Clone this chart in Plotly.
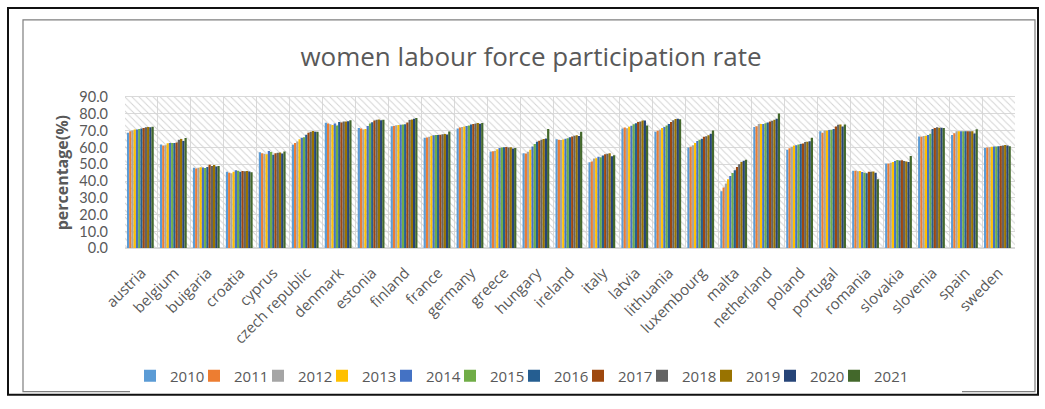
import plotly.graph_objects as go

# Countries on the category axis
countries = [
    "austria", "belgium", "buigaria", "croatia", "cyprus", "czech republic",
    "denmark", "estonia", "finland", "france", "germany", "greece", "hungary",
    "ireland", "italy", "latvia", "lithuania", "luxembourg", "malta",
    "netherland", "poland", "portugal", "romania", "slovakia", "slovenia",
    "spain", "sweden",
]

years = ["2010", "2011", "2012", "2013", "2014", "2015",
         "2016", "2017", "2018", "2019", "2020", "2021"]

# Women labour force participation rate (%) per year, in country order
y2010 = [68.8, 61.8, 47.9, 45.6, 57.1, 61.6, 74.7, 71.5, 72.6, 65.8, 71.3, 57.4, 56.6, 64.8,
         51.2, 71.2, 69.4, 59.9, 34.0, 72.1, 58.6, 69.6, 46.2, 50.4, 66.5, 67.4, 59.6]
y2011 = [69.6, 61.2, 47.4, 45.0, 56.5, 62.7, 74.2, 71.2, 72.8, 65.9, 71.8, 57.8, 56.4, 64.5,
         51.7, 71.8, 69.9, 60.4, 36.2, 72.6, 59.5, 68.7, 46.1, 50.5, 66.4, 68.4, 59.9]
y2012 = [70.1, 61.3, 47.9, 44.7, 56.2, 63.6, 73.8, 70.7, 73.2, 66.3, 72.1, 58.1, 57.5, 64.4,
         53.4, 71.4, 70.5, 61.3, 38.6, 73.9, 60.4, 70.0, 45.9, 50.8, 66.8, 69.6, 60.1]
y2013 = [70.7, 62.5, 48.2, 45.6, 55.9, 64.9, 73.4, 71.0, 73.3, 66.9, 72.5, 58.9, 58.6, 64.7,
         53.6, 72.3, 71.5, 62.6, 41.0, 74.0, 61.1, 70.0, 46.0, 51.4, 67.0, 69.6, 60.4]
y2014 = [70.6, 62.7, 48.1, 46.4, 57.9, 65.7, 74.3, 72.8, 73.5, 67.2, 72.8, 59.6, 60.6, 65.2,
         54.4, 72.9, 72.2, 63.8, 43.0, 74.0, 61.3, 70.4, 45.4, 52.0, 67.4, 69.6, 60.6]
y2015 = [70.9, 62.6, 47.8, 46.1, 57.3, 66.1, 73.1, 74.3, 73.6, 67.4, 73.0, 60.0, 62.1, 65.5,
         54.1, 73.8, 73.1, 64.5, 44.8, 74.4, 61.8, 70.5, 44.9, 52.5, 68.2, 69.6, 60.6]
y2016 = [71.3, 62.6, 48.4, 45.5, 55.7, 67.5, 75.1, 75.0, 73.8, 67.4, 73.6, 60.1, 63.4, 66.0,
         55.2, 74.4, 74.0, 65.2, 46.5, 74.9, 62.1, 71.0, 44.6, 52.3, 71.0, 69.6, 60.7]
y2017 = [71.6, 63.0, 49.7, 46.0, 56.6, 68.7, 74.9, 76.0, 74.9, 67.6, 74.0, 60.2, 64.0, 66.5,
         55.9, 75.1, 75.1, 66.3, 48.3, 75.4, 62.4, 72.5, 45.6, 52.4, 71.6, 69.7, 60.9]
y2018 = [72.0, 64.6, 49.0, 45.8, 56.8, 69.4, 75.5, 76.5, 76.3, 67.8, 74.3, 59.9, 64.5, 67.0,
         56.2, 75.4, 76.1, 66.6, 50.0, 75.9, 63.2, 73.5, 45.5, 52.0, 72.0, 69.6, 61.1]
y2019 = [72.1, 65.0, 49.6, 46.0, 57.0, 69.8, 75.4, 76.6, 76.6, 68.0, 74.6, 60.1, 65.0, 67.3,
         56.5, 76.0, 76.9, 67.2, 51.3, 76.4, 63.4, 73.7, 45.7, 51.6, 71.7, 69.7, 61.4]
y2020 = [72.0, 63.9, 48.7, 45.7, 56.4, 69.4, 75.6, 76.2, 77.0, 67.7, 74.1, 59.3, 65.3, 66.8,
         54.7, 76.0, 77.1, 68.2, 52.1, 77.1, 63.7, 72.4, 44.9, 51.3, 71.7, 68.3, 61.1]
y2021 = [72.3, 65.6, 48.9, 45.2, 57.6, 69.3, 76.2, 76.5, 77.5, 69.5, 74.5, 59.6, 71.0, 69.4,
         55.4, 73.0, 76.8, 70.0, 52.6, 80.2, 65.7, 73.6, 41.0, 54.9, 71.5, 70.8, 60.7]

series = [y2010, y2011, y2012, y2013, y2014, y2015,
          y2016, y2017, y2018, y2019, y2020, y2021]

colors = ["#5B9BD5", "#ED7D31", "#A5A5A5", "#FFC000", "#4472C4", "#70AD47",
          "#255E91", "#9E480E", "#636363", "#997300", "#264478", "#43682B"]

Y_MAX = 90
TEXT = "#595959"
GRID = "#D9D9D9"
FONT = "Open Sans"

fig = go.Figure()

# Hatched plot-area fill: one full-width patterned bar per category on the base axis
fig.add_trace(go.Bar(
    x=countries, y=[Y_MAX] * len(countries), width=1,
    marker=dict(color="rgba(0,0,0,0)", line=dict(width=0),
                pattern=dict(shape="\\", fgcolor="#D4D4D4", size=5,
                             solidity=0.2, fillmode="replace")),
    showlegend=False, hoverinfo="skip", xaxis="x", yaxis="y",
))

# Clustered columns, one trace per year, on an overlaying category axis
for yr, vals, col in zip(years, series, colors):
    fig.add_trace(go.Bar(
        name=yr, x=countries, y=vals, marker=dict(color=col, line=dict(width=0)),
        xaxis="x2", yaxis="y",
    ))

# Blank trailing legend slot so the last year's label has room in the legend box
fig.add_trace(go.Bar(
    name=" ", x=[None], y=[None], xaxis="x2", yaxis="y",
    marker=dict(color="rgba(0,0,0,0)", line=dict(width=0)), hoverinfo="skip",
))

# Pixel-to-paper helpers for the decorative frames
L, R, T, B = 125, 30, 97, 159
W, H = 1045, 409
pw, ph = W - L - R, H - T - B
px = lambda p: (p - L) / pw
py = lambda q: (H - B - q) / ph

fig.update_layout(
    width=W, height=H, autosize=False,
    margin=dict(l=L, r=R, t=T, b=B),
    paper_bgcolor="white", plot_bgcolor="white",
    barmode="group", bargap=0.12, bargroupgap=0,
    font=dict(family=FONT, color=TEXT),
    title=dict(text="women labour force participation rate",
               x=531 / W, xanchor="center", y=1 - 57 / H, yanchor="middle",
               font=dict(size=26, color=TEXT, family=FONT)),
    xaxis=dict(type="category", categoryorder="array", categoryarray=countries,
               range=[-0.5, len(countries) - 0.5],
               tickangle=-45, tickfont=dict(size=15, color=TEXT),
               ticklabelstandoff=9,
               tickson="boundaries", ticks="", showgrid=True, gridcolor=GRID,
               showline=True, linecolor=GRID, mirror=True),
    xaxis2=dict(type="category", categoryorder="array", categoryarray=countries,
                range=[-0.5, len(countries) - 0.5], overlaying="x", anchor="y",
                visible=False),
    yaxis=dict(range=[0, Y_MAX], dtick=10, tickformat=".1f",
               tickfont=dict(size=14.5, color=TEXT, family="Lato"),
               ticklabelstandoff=16,
               showgrid=True, gridcolor=GRID, zeroline=True, zerolinecolor=GRID,
               title=dict(text="<b>percentage(%)</b>", standoff=6,
                          font=dict(size=16, color=TEXT))),
    legend=dict(orientation="h", xref="container", yref="container",
                x=130 / W, xanchor="left", y=1 - 376 / H, yanchor="middle",
                font=dict(size=15, color=TEXT), entrywidth=19,
                traceorder="normal"),
    shapes=[
        dict(type="rect", xref="paper", yref="paper",
             x0=px(8), x1=px(1038), y0=py(398), y1=py(7),
             line=dict(color="#111111", width=2), layer="above"),
        dict(type="rect", xref="paper", yref="paper",
             x0=px(23), x1=px(1035), y0=py(395), y1=py(19),
             line=dict(color="#7F7F7F", width=1.2), layer="above"),
    ],
)

fig.write_html("out.html")
